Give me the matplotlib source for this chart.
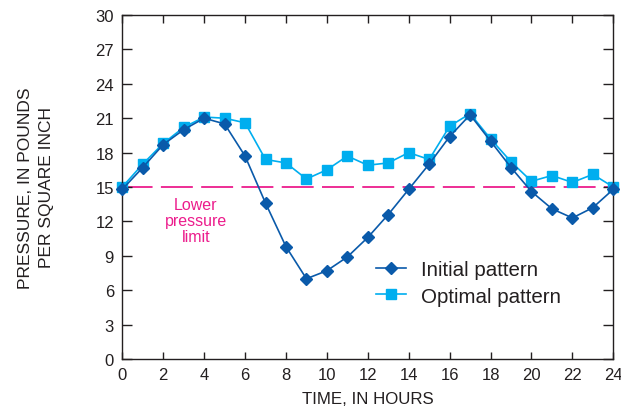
import matplotlib
matplotlib.use("Agg")
import matplotlib.pyplot as plt

plt.rcParams['font.family'] = ['Liberation Sans', 'DejaVu Sans']
plt.rcParams['lines.scale_dashes'] = False

hours = list(range(25))
initial = [14.8, 16.7, 18.7, 20.0, 21.0, 20.5, 17.7, 13.6, 9.8, 7.0, 7.7, 8.9, 10.6,
           12.6, 14.8, 17.0, 19.4, 21.3, 19.0, 16.7, 14.6, 13.1, 12.3, 13.2, 14.8]
optimal = [15.0, 17.0, 18.8, 20.2, 21.1, 21.0, 20.6, 17.4, 17.1, 15.7, 16.5, 17.7, 16.9,
           17.1, 18.0, 17.4, 20.3, 21.4, 19.2, 17.2, 15.5, 16.0, 15.4, 16.1, 15.0]
lower_limit = 15
x_ticks = list(range(0, 25, 2))
y_ticks = list(range(0, 31, 3))

dark_blue = '#0a5aaa'
light_blue = '#00aeef'
pink = '#ec1c8c'
text_color = '#231f20'

fig = plt.figure(figsize=(6.21, 4.10), dpi=100)
ax = fig.add_axes([122.3 / 621, 1 - 360 / 410, (613.3 - 122.3) / 621, (360 - 16) / 410])

ax.axhline(lower_limit, color=pink, lw=1.3, ls=(1, (23, 6)), zorder=1)

ax.plot(hours, optimal, color=light_blue, lw=1.2, marker='s', ms=7.8,
        mfc=light_blue, mec=light_blue, label='Optimal pattern', zorder=2, clip_on=False)
ax.plot(hours, initial, color=dark_blue, lw=1.2, marker='D', ms=6.3,
        mfc=dark_blue, mec=dark_blue, label='Initial pattern', zorder=3, clip_on=False)

ax.text(3.6, 12.1, 'Lower\npressure\nlimit', color=pink, fontsize=11.5,
        ha='center', va='center', linespacing=1.1)

ax.set_xlim(0, 24)
ax.set_ylim(0, 30)
ax.set_xticks(x_ticks)
ax.set_yticks(y_ticks)
ax.tick_params(axis='both', direction='in', top=True, right=True,
               labelsize=12, colors=text_color, width=1.0)
ax.tick_params(axis='x', length=5.4, pad=6)
ax.tick_params(axis='y', length=7.2, pad=6)
for s in ax.spines.values():
    s.set_color(text_color)
    s.set_linewidth(1.0)

ax.set_xlabel('TIME, IN HOURS', fontsize=12.2, color=text_color, labelpad=6)
ax.set_ylabel('PRESSURE, IN POUNDS\nPER SQUARE INCH', fontsize=12.5, color=text_color,
              labelpad=30, linespacing=1.45)

handles, labels = ax.get_legend_handles_labels()
leg = ax.legend(handles[::-1], labels[::-1], loc='center left',
                bbox_to_anchor=(0.517, 0.222), frameon=False, fontsize=14.8,
                handlelength=1.45, handletextpad=0.75, labelspacing=0.38,
                borderpad=0, borderaxespad=0)
for t in leg.get_texts():
    t.set_color(text_color)

fig.savefig('out.png', dpi=100)
